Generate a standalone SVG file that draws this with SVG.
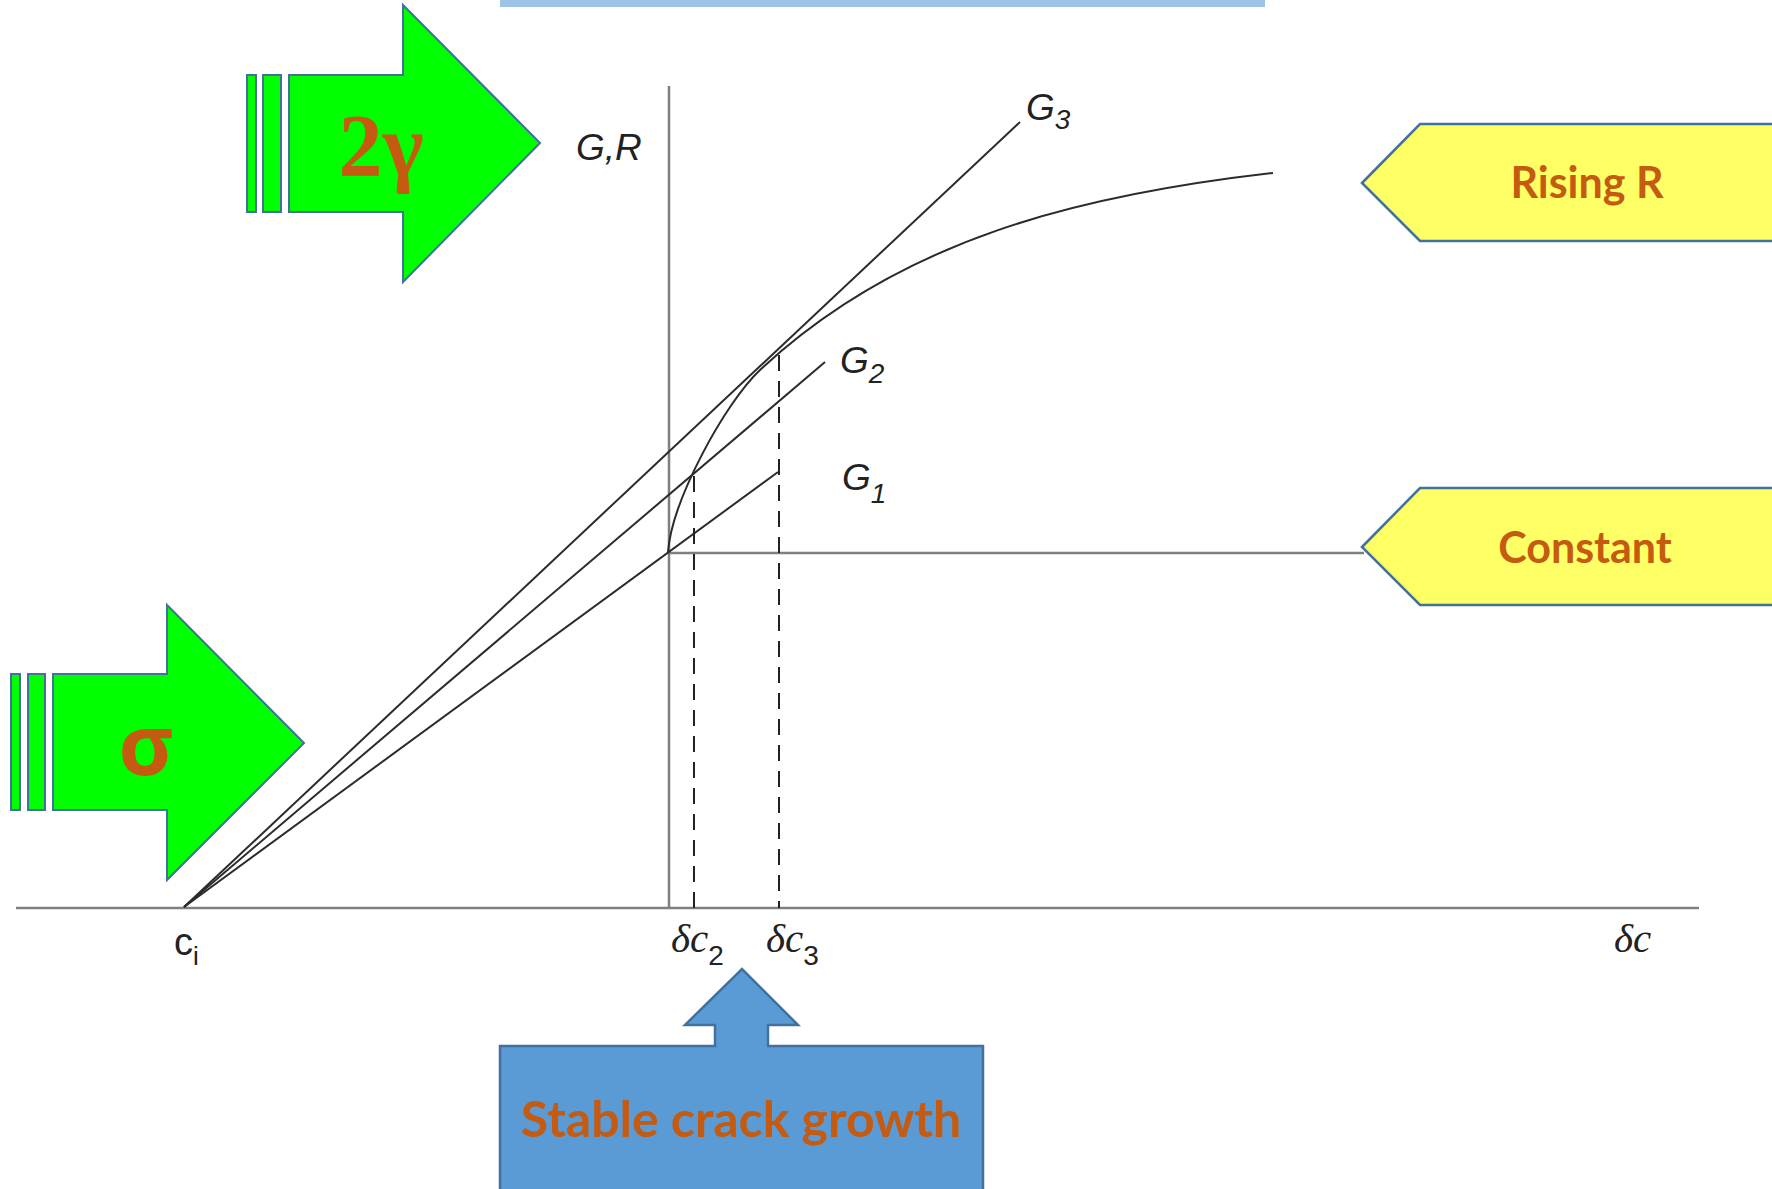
<svg xmlns="http://www.w3.org/2000/svg" width="1772" height="1189" viewBox="0 0 1772 1189">
<style>
.axis{stroke:#7f7f7f;stroke-width:2.5;fill:none}
.g{stroke:#2b2b2b;stroke-width:2;fill:none}
.dash{stroke:#222;stroke-width:2;fill:none;stroke-dasharray:16 10}
.green{fill:#00ff00;stroke:#41719c;stroke-width:2}
.yellow{fill:#ffff66;stroke:#41719c;stroke-width:2.5}
.blue{fill:#5b9bd5;stroke:#41719c;stroke-width:2.5}
.lbl{font-family:"Liberation Sans",Arial,sans-serif;font-style:italic;fill:#222}
.sub{font-family:"Liberation Sans",Arial,sans-serif;fill:#222}
.math{font-family:"Liberation Serif","Times New Roman",serif;font-style:italic;fill:#222}
.orange{font-family:Lato,"Open Sans",sans-serif;font-weight:bold;fill:#c55a11}
</style>
<rect width="1772" height="1189" fill="#ffffff"/>
<rect id="topbar" x="500" y="0" width="765" height="7" fill="#9dc3e6"/>

<g id="arrow-2gamma">
<rect class="green" x="247" y="75" width="9" height="137"/>
<rect class="green" x="263" y="75" width="18" height="137"/>
<polygon class="green" points="289,75 403,75 403,5 540,143 403,282 403,212 289,212"/>
<text x="381" y="175" text-anchor="middle" style="font-family:'Liberation Serif',serif;font-weight:bold;font-size:88px;fill:#c55a11">2γ</text>
</g>

<g id="arrow-sigma">
<rect class="green" x="11" y="674" width="9" height="136"/>
<rect class="green" x="28" y="674" width="17" height="136"/>
<polygon class="green" points="53,674 167,674 167,605 304,743 167,880 167,810 53,810"/>
<text x="146" y="775" text-anchor="middle" style="font-family:'Open Sans',sans-serif;font-weight:bold;font-size:84px;fill:#c55a11">σ</text>
</g>

<g id="connectors">
<line class="axis" x1="16" y1="908" x2="1699" y2="908"/>
<line class="axis" x1="669" y1="86" x2="669" y2="909"/>
<line class="axis" x1="668" y1="553" x2="1364" y2="553"/>
<line class="g" x1="184" y1="907" x2="778" y2="472"/>
<line class="g" x1="184" y1="907" x2="825" y2="362"/>
<line class="g" x1="184" y1="907" x2="1020" y2="122"/>
<path class="g" d="M668,552 C672,500 725,403 760,370 C900,239 1080,195 1273,173"/>
<line class="dash" x1="694" y1="476" x2="694" y2="908"/>
<line class="dash" x1="779" y1="355" x2="779" y2="908"/>
</g>

<g id="labels">
<text class="lbl" x="576" y="160" font-size="37">G,R</text>
<text class="lbl" x="1026" y="120" font-size="37">G<tspan class="sub" font-style="italic" font-size="28" dy="9">3</tspan></text>
<text class="lbl" x="840" y="373" font-size="37">G<tspan class="sub" font-size="28" dy="10">2</tspan></text>
<text class="lbl" x="842" y="490" font-size="37">G<tspan class="sub" font-style="italic" font-size="28" dy="13">1</tspan></text>
<text class="sub" x="174" y="955" font-size="38">c<tspan font-size="26" dy="10">i</tspan></text>
<text class="math" x="671" y="952" font-size="41">δc<tspan class="sub" font-style="normal" font-size="28" dy="13">2</tspan></text>
<text class="math" x="766" y="952" font-size="41">δc<tspan class="sub" font-style="normal" font-size="28" dy="13">3</tspan></text>
<text class="math" x="1614" y="952" font-size="41">δc</text>
</g>

<g id="rising-r">
<polygon class="yellow" points="1362,183 1420,124 1780,124 1780,241 1420,241"/>
<text class="orange" x="1587" y="198" text-anchor="middle" font-size="43">Rising R</text>
</g>

<g id="constant">
<polygon class="yellow" points="1362,547 1420,488 1780,488 1780,605 1420,605"/>
<text class="orange" x="1585" y="563" text-anchor="middle" font-size="43">Constant</text>
</g>

<g id="stable-crack-growth">
<polygon class="blue" points="500,1046 715,1046 715,1025 685,1025 742,969 798,1025 768,1025 768,1046 983,1046 983,1195 500,1195"/>
<text class="orange" x="741" y="1137" text-anchor="middle" font-size="50">Stable crack growth</text>
</g>
</svg>
